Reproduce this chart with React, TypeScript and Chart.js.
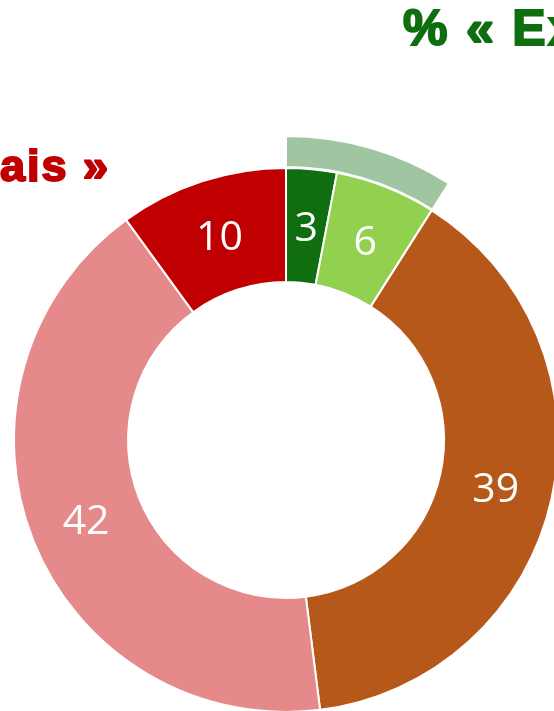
import React, { useEffect, useRef } from "react";
import { Chart, registerables } from "chart.js";

Chart.register(...registerables);

const categories = ["Très bien", "Bien", "Moyen", "Mauvais", "Très mauvais"];
const values = [3, 6, 39, 42, 10];
const colors = ["#0E6E10", "#92D050", "#B5581A", "#E6898A", "#C00000"];

const highlightLabels = ["Excellent", ""];
const highlightValues = [9, 91];
const highlightColors = ["#A0C5A0", "rgba(0,0,0,0)"];

const titleRight = "% « Excellent »";
const titleLeft = "% « Mauvais »";

const MAIN_INDEX = 2;

const labelPlugin = {
  id: "sliceLabels",
  afterDatasetsDraw(chart: any) {
    const ctx = chart.ctx;
    const meta = chart.getDatasetMeta(MAIN_INDEX);
    ctx.save();
    ctx.fillStyle = "#ffffff";
    ctx.font = "41px 'Open Sans'";
    ctx.textAlign = "center";
    ctx.textBaseline = "middle";
    meta.data.forEach((arc: any, i: number) => {
      const p = arc.tooltipPosition();
      ctx.fillText(String(values[i]), p.x, p.y + 3);
    });
    ctx.restore();
  },
};

export default function App() {
  const ref = useRef<HTMLCanvasElement | null>(null);
  useEffect(() => {
    if (!ref.current) return;
    const chart = new Chart(ref.current, {
      type: "doughnut",
      data: {
        labels: categories,
        datasets: [
          {
            label: highlightLabels[0],
            data: highlightValues,
            backgroundColor: highlightColors,
            borderColor: "#ffffff",
            borderWidth: [2, 0],
            weight: 31,
          } as any,
          {
            label: "gap",
            data: [1],
            backgroundColor: "rgba(0,0,0,0)",
            borderWidth: 0,
            weight: 1,
          } as any,
          {
            data: values,
            backgroundColor: colors,
            borderColor: "#ffffff",
            borderWidth: 2,
            weight: 114,
          } as any,
        ],
      },
      options: {
        animation: false,
        responsive: false,
        maintainAspectRatio: false,
        radius: 304,
        cutout: "51.97%",
        events: [],
        layout: { padding: 0 },
        plugins: {
          legend: { display: false },
          tooltip: { enabled: false },
        },
      } as any,
      plugins: [labelPlugin],
    });
    return () => chart.destroy();
  }, []);

  const titleStyle = {
    position: "absolute" as const,
    whiteSpace: "nowrap" as const,
    fontFamily: "'Liberation Sans', Arial, sans-serif",
    fontWeight: "bold" as const,
  };

  return (
    <div
      style={{
        position: "fixed",
        left: 0,
        top: 0,
        width: 554,
        height: 711,
        overflow: "hidden",
        background: "#ffffff",
      }}
    >
      <canvas
        ref={ref}
        width={612}
        height={612}
        style={{ position: "absolute", left: 286 - 306, top: 440 - 306, width: 612, height: 612 }}
      />
      <div
        style={{
          ...titleStyle,
          left: 403,
          top: -2,
          fontSize: 50,
          letterSpacing: 2.3,
          color: "#0E6E10",
          WebkitTextStroke: "2px #0E6E10",
          lineHeight: "60px",
        }}
      >
        {titleRight}
      </div>
      <div
        style={{
          ...titleStyle,
          right: 554 - 110,
          top: 139,
          fontSize: 45,
          letterSpacing: 2,
          color: "#C00000",
          WebkitTextStroke: "2px #C00000",
          lineHeight: "54px",
        }}
      >
        {titleLeft}
      </div>
    </div>
  );
}
